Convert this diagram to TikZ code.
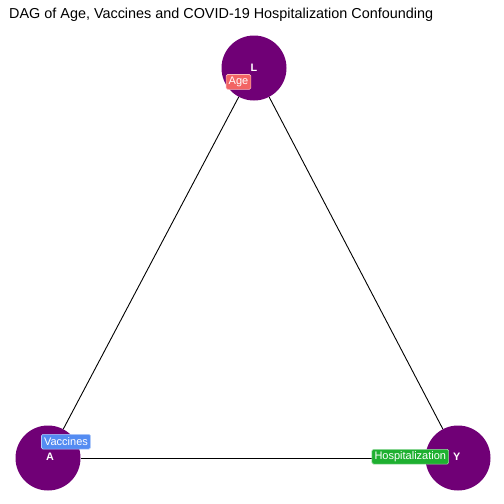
\documentclass[tikz,border=0pt]{standalone}
\usepackage{fontspec}
\setmainfont{Liberation Sans}
\definecolor{nodepurple}{RGB}{112,0,118}
\definecolor{agered}{RGB}{242,100,100}
\definecolor{vacblue}{RGB}{84,140,242}
\definecolor{hospgreen}{RGB}{30,176,48}
\begin{document}
\begin{tikzpicture}[x=1pt,y=-1pt,
  dagnode/.style={circle,fill=nodepurple,minimum size=65pt,inner sep=0pt},
  letter/.style={font=\fontsize{10.8}{12}\selectfont\bfseries,text=white,inner sep=0pt},
  tag/.style={rounded corners=1.5pt,draw=white!55!#1,line width=0.6pt,fill=#1,text=white,
    font=\fontsize{11}{12}\selectfont,inner xsep=2.6pt,inner ysep=0pt,
    minimum height=14.8pt},
  edge/.style={draw=black,line width=0.9pt}]
\useasboundingbox[fill=white] (0,0) rectangle (504,504);
\node[anchor=base west,inner sep=0pt,font=\fontsize{14.4}{16}\selectfont] (title) at (9,18.3) {DAG of Age, Vaccines and COVID-19 Hospitalization Confounding};
\node[dagnode] (L) at (254,68) {};
\node[dagnode] (A) at (48,458) {};
\node[dagnode] (Y) at (458,458) {};
\draw[edge] (L) -- (A);
\draw[edge] (L) -- (Y);
\draw[edge] (A) -- (Y);
\node[letter] (Lt) at (253.8,68) {L};
\node[letter] (At) at (50,456.7) {A};
\node[letter] (Yt) at (456.7,456.7) {Y};
\node[tag=agered] (age) at (238.5,81.9) {Age};
\node[tag=vacblue] (vac) at (66,441.7) {Vaccines};
\node[tag=hospgreen] (hosp) at (410.3,456.7) {Hospitalization};
\end{tikzpicture}
\end{document}
